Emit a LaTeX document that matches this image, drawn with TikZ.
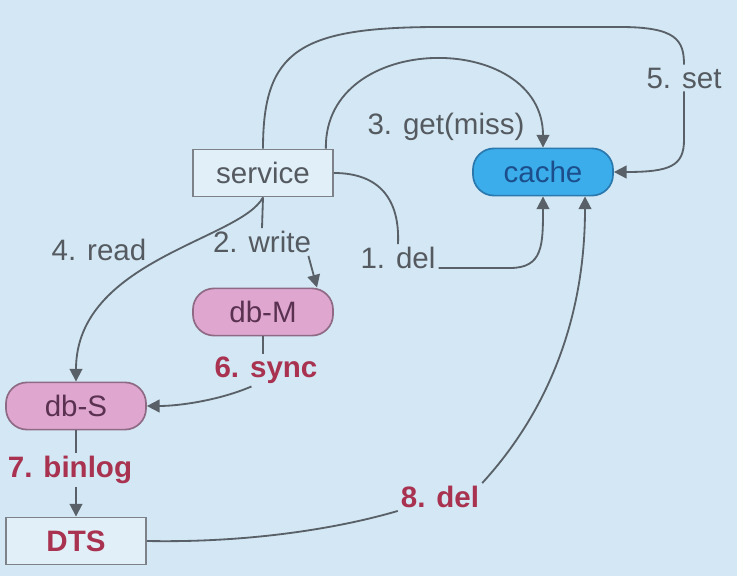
\documentclass[tikz,border=0pt]{standalone}
\usepackage{fontspec}
\setmainfont{Liberation Sans}
\usepackage{xcolor}
\usetikzlibrary{arrows.meta, positioning}

\definecolor{slidebg}{HTML}{D3E8F4}
\definecolor{linegray}{HTML}{596068}
\definecolor{labelgray}{HTML}{555A60}
\definecolor{labelred}{HTML}{A8324F}
\definecolor{boxfill}{HTML}{E1F0F8}
\definecolor{boxline}{HTML}{7C8288}
\definecolor{cachefill}{HTML}{3AADEA}
\definecolor{cacheline}{HTML}{2A78AE}
\definecolor{cachetext}{HTML}{1D4E8C}
\definecolor{dbfill}{HTML}{DFA7D0}
\definecolor{dbline}{HTML}{8E6A84}
\definecolor{dbtext}{HTML}{5A3150}

\begin{document}
\begin{tikzpicture}[
    x=0.025cm, y=0.025cm,
    >={Triangle[width=9pt,length=9pt]},
    link/.style={draw=linegray, line width=1.3pt},
    box/.style={draw=boxline, fill=boxfill, line width=1.2pt, minimum width=3.5cm, minimum height=1.18cm, font=\fontsize{21}{24}\selectfont, text=labelgray},
    pill/.style={box, rounded corners=15pt},
    msg label/.style={inner sep=2pt, font=\fontsize{21}{24}\selectfont, text=labelgray},
    sync label/.style={inner sep=2pt, font=\bfseries\fontsize{21}{24}\selectfont, text=labelred}
]

    % --- SLIDE ---
    \fill[slidebg] (0,0) rectangle (737,-576);
    \useasboundingbox (0,0) rectangle (737,-576);

    % --- NODES ---
    \node[box] (service) at (263,-173) {service};
    \node[pill, fill=cachefill, draw=cacheline, text=cachetext] (cache) at (543,-172) {cache};
    \node[pill, fill=dbfill, draw=dbline, text=dbtext] (dbM) at (263,-312) {db-M};
    \node[pill, fill=dbfill, draw=dbline, text=dbtext] (dbS) at (76,-406) {db-S};
    \node[box, text=labelred, font=\bfseries\fontsize{21}{24}\selectfont] (DTS) at (76,-541) {DTS};

    % --- LABELS ---
    \node[msg label] (set) at (684,-78) {5. set};
    \node[msg label] (get) at (446,-127) {3. get(miss)};
    \node[msg label] (del1) at (398,-258) {1. del};
    \node[msg label] (write) at (262,-242) {2. write};
    \node[msg label] (read) at (99,-250) {4. read};
    \node[sync label] (sync) at (266,-370) {6. sync};
    \node[sync label] (binlog) at (70,-470) {7. binlog};
    \node[sync label] (del8) at (440,-497) {8. del};

    % --- EDGES ---
    % 5. set
    \draw[link] (service.north) .. controls (263,-50) and (300,-27) .. (440,-27) -- (620,-27)
        .. controls (676,-27) and (684,-40) .. (set.north);
    \draw[link, ->] (set.south) -- (684,-140) .. controls (684,-166) and (670,-172) .. (cache.east);

    % 3. get(miss)
    \draw[link, ->] ([xshift=-0.2cm]service.north east) .. controls (324,-30) and (543,-30) .. (cache.north);

    % 1. del
    \draw[link] (service.east) .. controls (380,-173) and (400,-200) .. (del1.north);
    \draw[link, ->] ([yshift=-0.25cm]del1.east) -- (510,-268) .. controls (543,-268) and (543,-245) .. (cache.south);

    % 2. write / 4. read
    \draw[link] (service.south) -- (write.north);
    \draw[link, ->] ([xshift=-4pt]write.south east) -- ([xshift=1.35cm]dbM.north);
    \draw[link, ->] (service.south) .. controls (240,-240) and (76,-260) .. (dbS.north);

    % 6. sync
    \draw[link] (dbM.south) -- (dbM.south |- sync.north);
    \draw[link, ->] ([xshift=1cm]sync.south west) .. controls (220,-400) and (180,-406) .. (dbS.east);

    % 7. binlog
    \draw[link] (dbS.south) -- (dbS.south |- binlog.north);
    \draw[link, ->] (binlog.south -| DTS.north) -- (DTS.north);

    % 8. del
    \draw[link] (DTS.east) .. controls (250,-543) and (340,-528) .. (del8.south west);
    \draw[link, ->] (del8.north east) .. controls (540,-420) and (585,-330) .. ([xshift=1.05cm]cache.south);

\end{tikzpicture}
\end{document}
